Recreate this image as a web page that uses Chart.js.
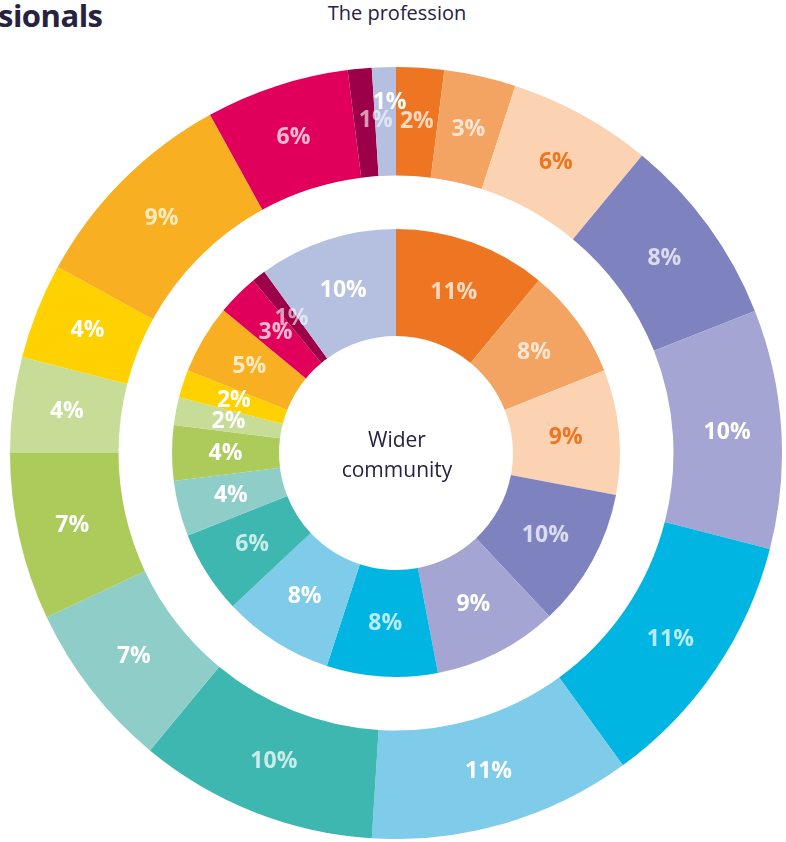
<!DOCTYPE html>
<html>
<head>
<meta charset="utf-8">
<script src="https://cdn.jsdelivr.net/npm/chart.js@4.4.1/dist/chart.umd.min.js"></script>
<style>
html, body { margin: 0; padding: 0; background: #fff; overflow: hidden; }
body { width: 786px; height: 842px; position: relative; font-family: 'Open Sans', sans-serif; color: #26223f; }
#chartBox { position: absolute; left: 10px; top: 67px; width: 772px; height: 772px; }
.title { position: absolute; left: -2px; top: -6px; font-size: 31px; font-weight: 700; letter-spacing: -0.5px; }
.ring-title { position: absolute; left: 0; width: 794px; top: 0; text-align: center; font-size: 20px; line-height: 26px; }
.center-title { position: absolute; left: 296px; width: 202px; top: 424px; text-align: center; font-size: 21px; line-height: 30px; }
</style>
</head>
<body>
<div class="title">sionals</div>
<div class="ring-title">The profession</div>
<div id="chartBox"><canvas id="chart" width="772" height="772"></canvas></div>
<div class="center-title">Wider<br>community</div>
<script>
// 카테고리 (색상 순서, 위에서 시계방향)
const categories = [
    "Orange", "Light orange", "Peach", "Purple", "Lavender", "Cyan", "Light blue", "Teal",
    "Light teal", "Green", "Light green", "Yellow", "Amber", "Magenta", "Dark magenta", "Periwinkle"
];

// 바깥 링 - The profession (%)
const professionValues = [2, 3, 6, 8, 10, 11, 11, 10, 7, 7, 4, 4, 9, 6, 1, 1];

// 안쪽 링 - Wider community (%)
const communityValues = [11, 8, 9, 10, 9, 8, 8, 6, 4, 4, 2, 2, 5, 3, 1, 10];

const colors = [
    "#EE7623", "#F3A462", "#FCD3B2", "#7E83C0", "#A4A5D3", "#00B5E2", "#7ECBEA", "#3DB7AF",
    "#8FCDC8", "#ACCB5B", "#C7DC96", "#FFD100", "#F9AF22", "#E0005B", "#9C0048", "#B5BFE0"
];

const fade = "rgba(255,255,255,0.72)";
const labelColors = [
    fade, fade, "#EE7623", fade, "#fff", fade, "#fff", fade,
    "#fff", "#fff", "#fff", "#fff", fade, fade, "rgba(255,255,255,0.6)", "#fff"
];

// 작은 조각 라벨 위치 보정 (px)
const professionNudges = { 14: [11, -2], 15: [4, -19] };
const communityNudges = {};

// 퍼센트 라벨 그리기
const arcLabels = {
    id: 'arcLabels',
    afterDatasetsDraw(chart) {
        const ctx = chart.ctx;
        const rings = [
            { index: 0, values: professionValues, nudges: professionNudges },
            { index: 2, values: communityValues, nudges: communityNudges }
        ];
        ctx.save();
        ctx.font = "700 23px 'Open Sans'";
        ctx.textAlign = 'center';
        ctx.textBaseline = 'middle';
        rings.forEach(ring => {
            const meta = chart.getDatasetMeta(ring.index);
            meta.data.forEach((arc, i) => {
                const p = arc.getCenterPoint();
                const n = ring.nudges[i] || [0, 0];
                ctx.fillStyle = labelColors[i];
                ctx.fillText(ring.values[i] + '%', p.x + n[0], p.y + n[1]);
            });
        });
        ctx.restore();
    }
};

const main_ctx = document.getElementById('chart');

new Chart(main_ctx, {
    type: 'doughnut',
    data: {
        labels: categories,
        datasets: [
            {
                label: 'The profession',
                data: professionValues,
                backgroundColor: colors,
                borderWidth: 0,
                weight: 108.5
            },
            {
                // 링 사이 여백
                label: 'gap',
                data: [1],
                backgroundColor: 'rgba(0,0,0,0)',
                borderWidth: 0,
                weight: 53.5
            },
            {
                label: 'Wider community',
                data: communityValues,
                backgroundColor: colors,
                borderWidth: 0,
                weight: 107
            }
        ]
    },
    options: {
        responsive: false,
        animation: false,
        events: [],
        cutout: '30.3%',
        layout: { padding: 0 },
        plugins: {
            legend: { display: false },
            tooltip: { enabled: false }
        }
    },
    plugins: [arcLabels]
});
</script>
</body>
</html>
